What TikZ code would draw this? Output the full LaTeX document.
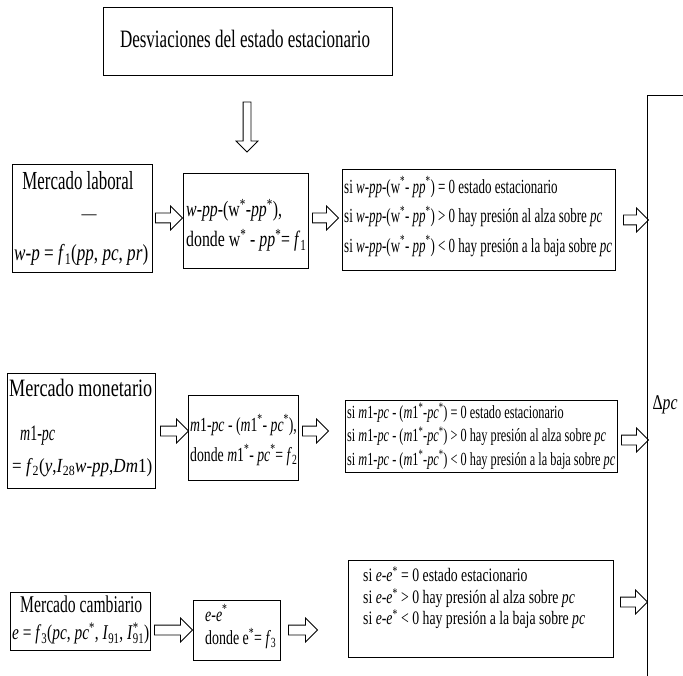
\documentclass[tikz,border=0pt]{standalone}
\usepackage{fontspec}
\setmainfont{Liberation Serif}
\usepackage{graphicx}
\usetikzlibrary{shapes.arrows}
\newcommand{\fitbox}[4]{\resizebox{#1pt}{\height}{\fontsize{#2pt}{#3pt}\selectfont\begin{tabular}{@{}l@{}}#4\end{tabular}}}
\newcommand{\st}{\textsuperscript{*}}
\begin{document}
\begin{tikzpicture}[x=1pt,y=-1pt,
  box/.style={draw, line width=0.8pt, inner sep=0pt},
  txt/.style={inner sep=0pt, anchor=west},
  ctxt/.style={inner sep=0pt, anchor=center},
  harrow/.style={single arrow, draw, line width=0.8pt, inner sep=0pt,
    text height=4.5pt, text depth=4.5pt, minimum width=19pt,
    single arrow tip angle=90},
  varrow/.style={single arrow, draw, line width=0.8pt, inner sep=0pt,
    text height=3.5pt, text depth=3.5pt, minimum width=15pt,
    single arrow tip angle=90, rotate=-90}
  ]
\useasboundingbox (0,0) rectangle (683,676);
% top
\node[box, minimum width=289pt, minimum height=68pt] (T) at (247.5,41) {};
\node[ctxt] (Tt) at (245,42) {\fitbox{250}{25}{29}{Desviaciones del estado estacionario}};
\node[varrow, minimum height=50pt] (D) at (247,125) {};
% row 1
\node[box, minimum width=140pt, minimum height=108pt] (A1) at (82,218) {};
\node[ctxt] (A1a) at (78,184) {\fitbox{111}{26}{30}{Mercado laboral}};
\node[ctxt] (A1b) at (89,216) {\fitbox{15}{18}{20}{—}};
\node[txt] (A1c) at (14,255) {\fitbox{134}{23}{27}{\textit{w-p} = \textit{f}\textsubscript{1}(\textit{pp}, \textit{pc}, \textit{pr})}};
\node[box, minimum width=125pt, minimum height=95pt] (B1) at (245.5,220.5) {};
\node[txt] (B1t) at (186,226) {\fitbox{120}{22}{30}{\textit{w-pp}-(w\st-\textit{pp}\st),\\donde w\st\ - \textit{pp}\st= \textit{f}\textsubscript{1}}};
\node[box, minimum width=273pt, minimum height=101pt] (C1) at (478.5,219.5) {};
\node[txt] (C1t) at (344,217) {\fitbox{268}{20}{29.5}{si \textit{w-pp}-(w\st- \textit{pp}\st) = 0 estado estacionario\\si \textit{w-pp}-(w\st- \textit{pp}\st) > 0 hay presión al alza sobre \textit{pc}\\si \textit{w-pp}-(w\st- \textit{pp}\st) < 0 hay presión a la baja sobre \textit{pc}}};
\node[harrow, minimum height=27pt] (R1a) at (166.5,218) {};
\node[harrow, minimum height=26pt] (R1b) at (323,218) {};
\node[harrow, minimum height=25pt] (R1c) at (633.5,220) {};
% row 2
\node[box, minimum width=148pt, minimum height=115pt] (A2) at (81,430.5) {};
\node[txt] (A2a) at (9,391) {\fitbox{143}{25}{29}{Mercado monetario}};
\node[txt] (A2b) at (20,435) {\fitbox{35}{22}{25}{\textit{m}1-\textit{pc}}};
\node[txt] (A2c) at (12,468) {\fitbox{140}{20}{23}{= \textit{f}\textsubscript{2}(\textit{y},\textit{I}\textsubscript{28}\textit{w-pp},\textit{Dm}1)}};
\node[box, minimum width=110pt, minimum height=85pt] (B2) at (243,437.5) {};
\node[txt] (B2t) at (190,440) {\fitbox{107}{20}{30}{\textit{m}1-\textit{pc} - (\textit{m}1\st- \textit{pc}\st),\\donde \textit{m}1\st- \textit{pc}\st= \textit{f}\textsubscript{2}}};
\node[box, minimum width=272pt, minimum height=72pt] (C2) at (481,436) {};
\node[txt] (C2t) at (347,437) {\fitbox{268}{18.5}{23.5}{si \textit{m}1-\textit{pc} - (\textit{m}1\st-\textit{pc}\st) = 0 estado estacionario\\si \textit{m}1-\textit{pc} - (\textit{m}1\st-\textit{pc}\st) > 0 hay presión al alza sobre \textit{pc}\\si \textit{m}1-\textit{pc} - (\textit{m}1\st-\textit{pc}\st) < 0 hay presión a la baja sobre \textit{pc}}};
\node[harrow, minimum height=28pt] (R2a) at (172,431) {};
\node[harrow, minimum height=26pt] (R2b) at (313,431) {};
\node[harrow, minimum height=27pt] (R2c) at (632.5,440) {};
% row 3
\node[box, minimum width=140pt, minimum height=58pt] (A3) at (80,621) {};
\node[txt] (A3a) at (20,607) {\fitbox{122}{24}{27}{Mercado cambiario}};
\node[txt] (A3b) at (12,635) {\fitbox{137}{21}{24}{\textit{e} = \textit{f}\textsubscript{3}(\textit{pc}, \textit{pc}\st, \textit{I}\textsubscript{91}, \textit{I}\rlap{\st}\textsubscript{91})}};
\node[box, minimum width=87pt, minimum height=60pt] (B3) at (236.5,630) {};
\node[txt] (B3t) at (205,628) {\fitbox{71}{20}{23}{\textit{e-e}\st\\donde e\st= \textit{f}\textsubscript{3}}};
\node[box, minimum width=265pt, minimum height=97pt] (C3) at (480.5,608.5) {};
\node[txt] (C3t) at (363,599) {\fitbox{222}{19}{21.5}{si \textit{e-e}\st\ = 0 estado estacionario\\si \textit{e-e}\st\ > 0 hay presión al alza sobre \textit{pc}\\si \textit{e-e}\st\ < 0 hay presión a la baja sobre \textit{pc}}};
\node[harrow, minimum height=38pt] (R3a) at (171,630) {};
\node[harrow, minimum height=29pt] (R3b) at (300.5,630) {};
\node[harrow, minimum height=27pt] (R3c) at (631.5,602) {};
% collector line
\coordinate (vtr) at (683,95);
\coordinate (vtop) at (647,95);
\coordinate (vbot) at (647,676);
\draw[line width=0.8pt] (vtr) -- (vtop) -- (vbot);
\node[ctxt] (dpc) at (665,405) {\fitbox{25}{21}{24}{Δ\textit{pc}}};
\end{tikzpicture}
\end{document}
